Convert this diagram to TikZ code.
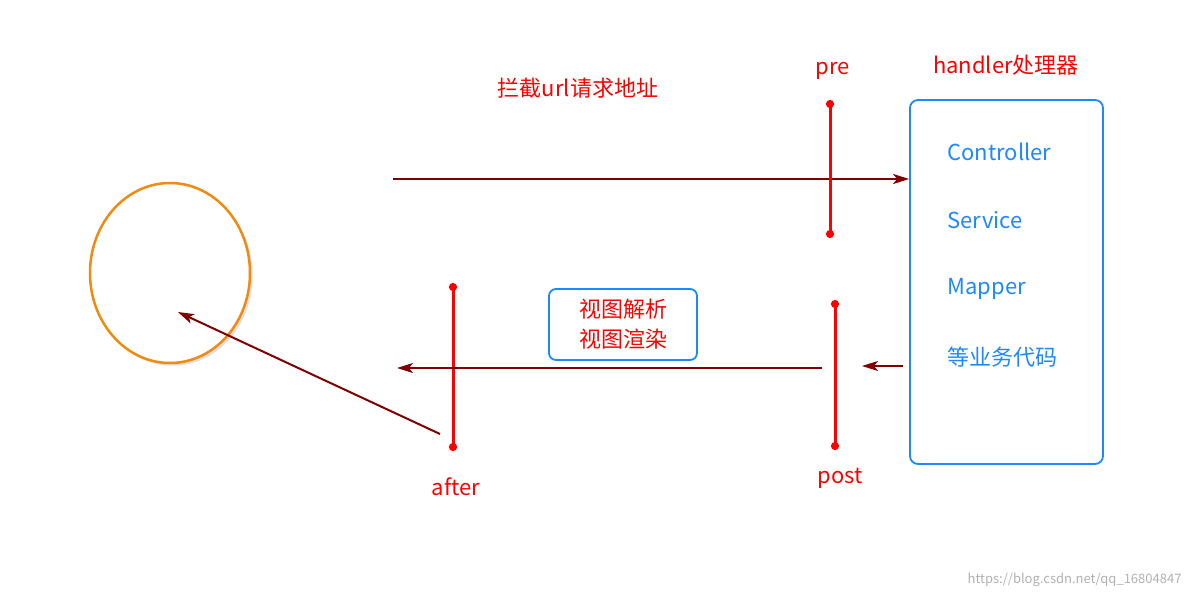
\documentclass[tikz,border=0pt]{standalone}
\usepackage{fontspec}
\setmainfont{Noto Sans CJK SC}
\usetikzlibrary{arrows.meta,shadows,shapes.geometric}
\definecolor{dred}{HTML}{800000}
\definecolor{bblue}{HTML}{1E88FF}
\definecolor{orng}{HTML}{F08A10}
\tikzset{
 flow/.style={dred,line width=2pt,-{Stealth[length=16pt,width=10pt,inset=4pt]}},
 bar/.style={red,line width=3pt,{Circle[length=8pt,width=8pt]}-{Circle[length=8pt,width=8pt]}},
 rlab/.style={red,font=\fontsize{22}{26}\selectfont},
 blab/.style={bblue,font=\fontsize{22}{26}\selectfont,anchor=west},
}
\begin{document}
\begin{tikzpicture}[x=1pt,y=-1pt]
\useasboundingbox[fill=white] (0,0) rectangle (1192,600);
\node[draw=orng,fill=white,line width=2.5pt,ellipse,minimum width=160pt,minimum height=180pt,drop shadow={opacity=0.25,fill=gray}] (client) at (170,273) {};
\node[rlab] (title) at (578,88) {拦截url请求地址};
\node[rlab] (pre) at (833,71) {pre};
\node[rlab] (hl) at (1006,65) {handler处理器};
\node[draw=bblue,line width=1.8pt,rounded corners=8pt,minimum width=193pt,minimum height=364pt] (handler) at (1006.5,282) {};
\node[blab] (c1) at (944,152) {Controller};
\node[blab] (c2) at (944,220) {Service};
\node[blab] (c3) at (944,289) {Mapper};
\node[blab] (c4) at (944,357) {等业务代码};
\coordinate (s1) at (393,179);
\draw[flow] (s1) -- (handler.west |- s1);
\coordinate (p1) at (830,100); \coordinate (p2) at (830,238);
\draw[bar] (p1) -- (p2);
\coordinate (q1) at (835,300); \coordinate (q2) at (835,450);
\draw[bar] (q1) -- (q2);
\node[rlab] (post) at (840,478) {post};
\coordinate (a1) at (453,283); \coordinate (a2) at (453,451);
\draw[bar] (a1) -- (a2);
\node[rlab] (after) at (456,487) {after};
\coordinate (h1) at (903,366); \coordinate (h2) at (862,366);
\draw[flow] (h1) -- (h2);
\coordinate (r1) at (822,368); \coordinate (r2) at (397,368);
\draw[flow] (r1) -- (r2);
\node[draw=bblue,line width=1.8pt,rounded corners=7pt,minimum width=148pt,minimum height=71pt,align=center,text=red,font=\fontsize{22}{30}\selectfont] (view) at (623,324.5) {视图解析\\视图渲染};
\coordinate (b1) at (440,434);
\draw[flow] (b1) -- (178,312);
\node[gray!60,font=\fontsize{13}{15}\selectfont,anchor=east] (wm) at (1185,580) {https://blog.csdn.net/qq\_16804847};
\end{tikzpicture}
\end{document}
